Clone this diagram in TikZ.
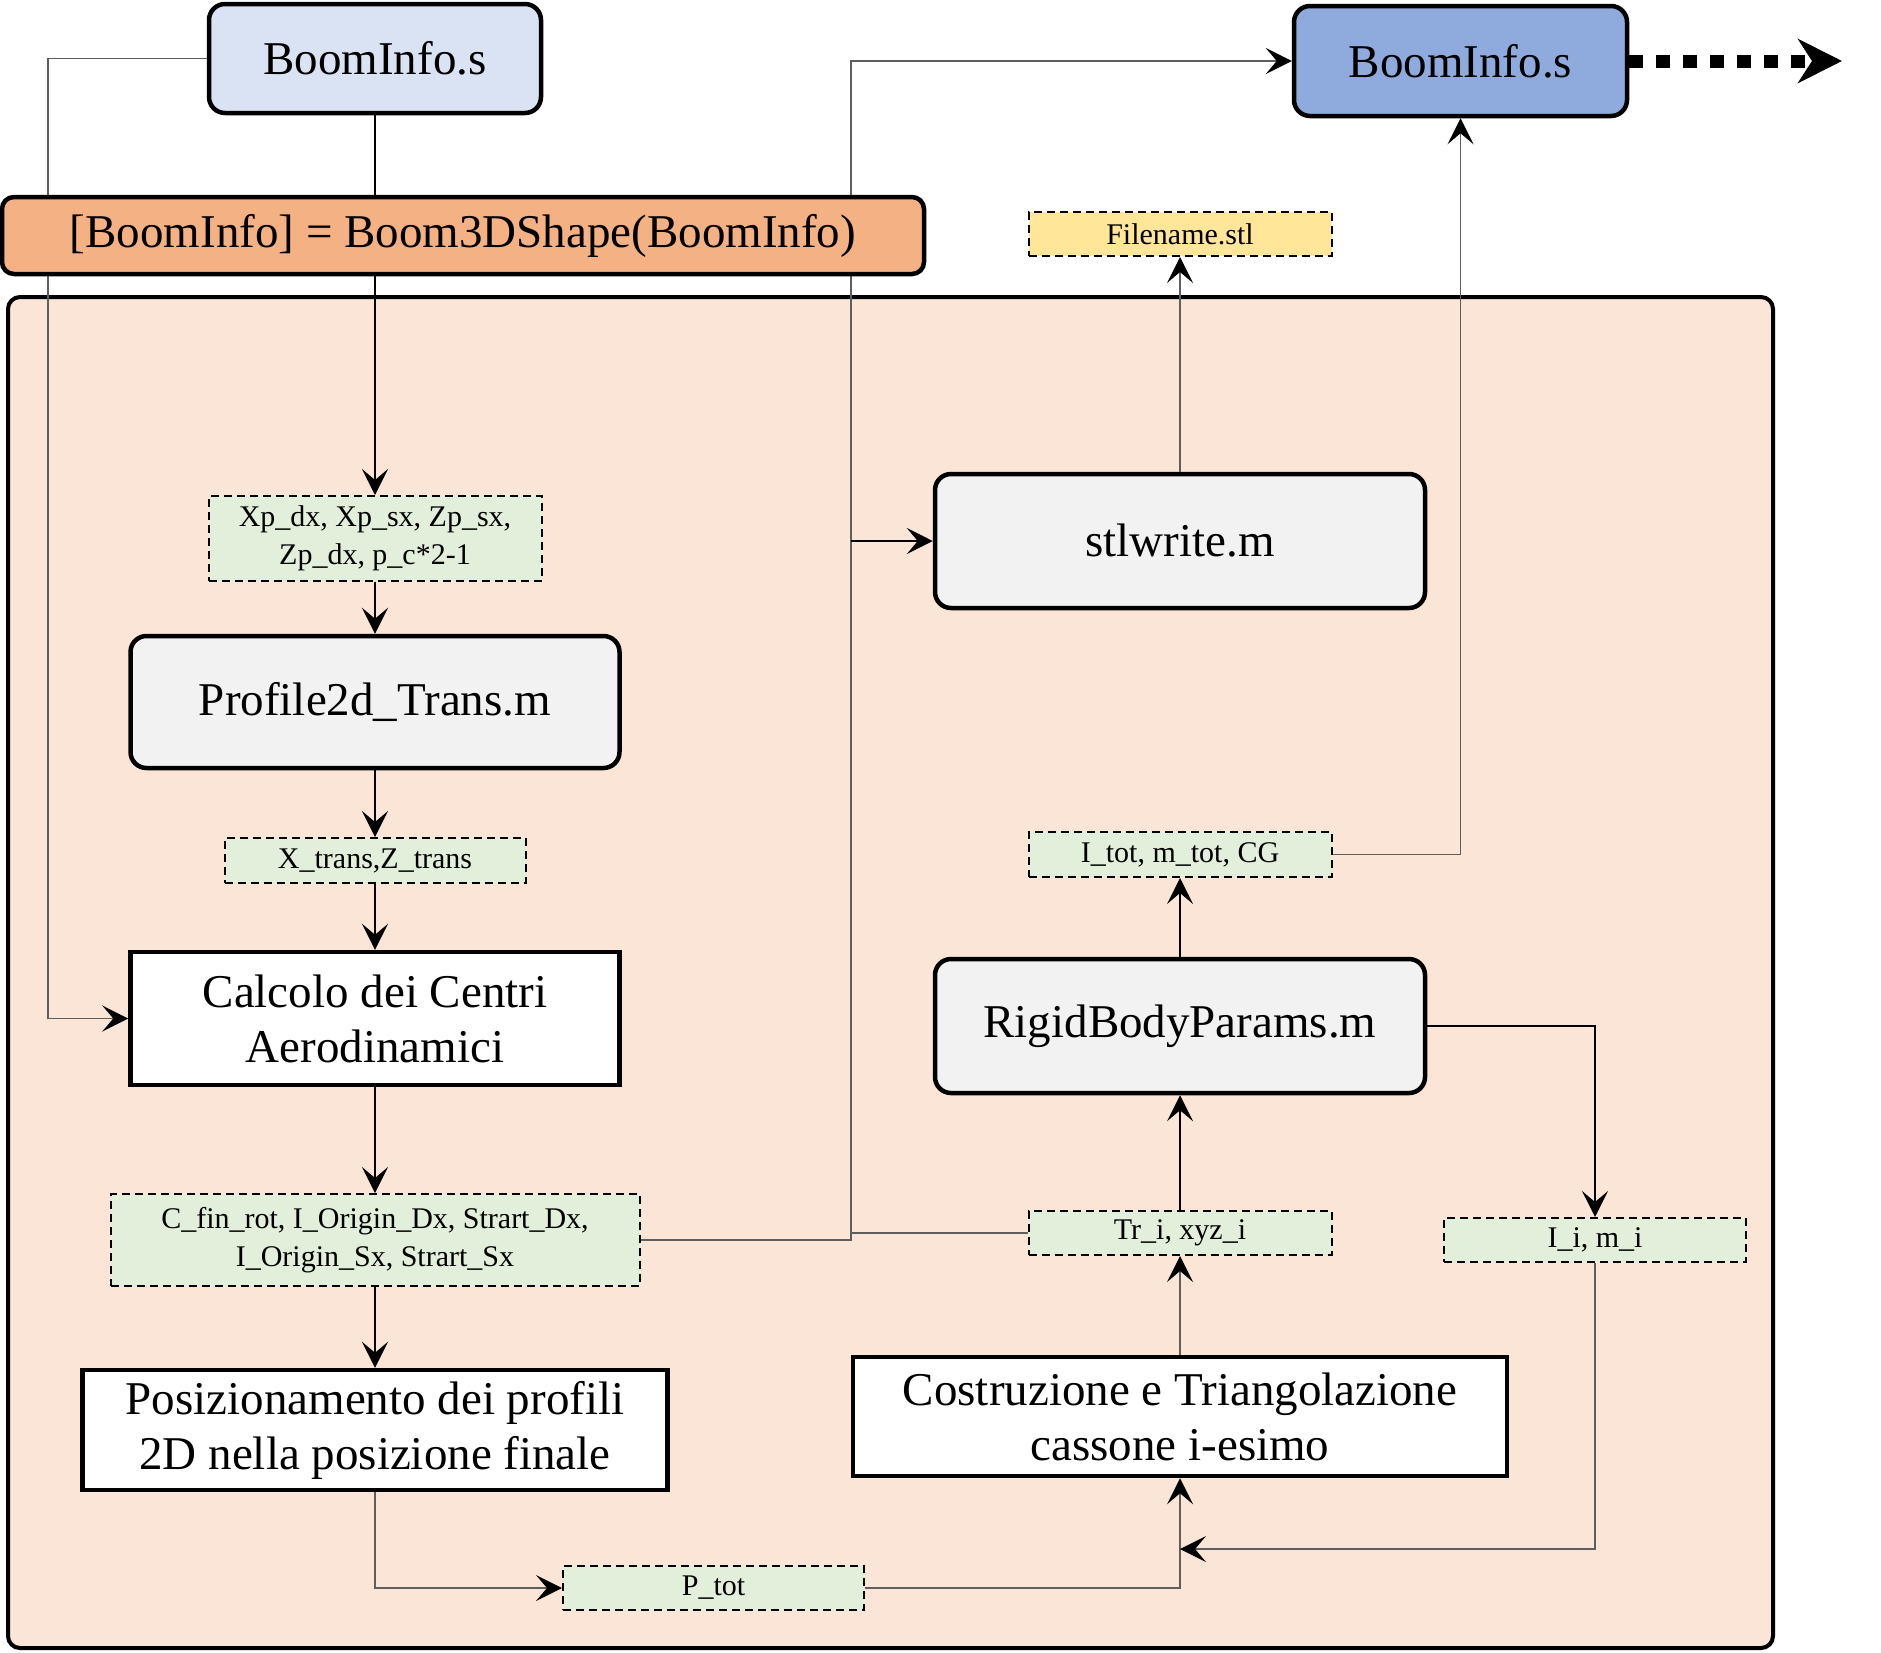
\documentclass[tikz,border=0pt]{standalone}
\usepackage{fontspec}
\setmainfont{Liberation Serif}
\usetikzlibrary{arrows.meta,calc}
\definecolor{cB1}{HTML}{DAE3F3}
\definecolor{cB2}{HTML}{8FAADC}
\definecolor{cOr}{HTML}{F4B183}
\definecolor{cCont}{HTML}{FBE5D6}
\definecolor{cYel}{HTML}{FFE699}
\definecolor{cGrn}{HTML}{E2EFDA}
\definecolor{cGry}{HTML}{F2F2F2}
\definecolor{cLine}{HTML}{5E5E5E}
\tikzset{
  bigfont/.style={font=\fontsize{47}{55}\selectfont},
  smallfont/.style={font=\fontsize{30}{38}\selectfont},
  rbox/.style={draw=black,line width=4.5pt,rounded corners=16pt,inner sep=0pt,align=center,bigfont},
  sbox/.style={draw=black,line width=4.5pt,inner sep=0pt,align=center,bigfont},
  dbox/.style={draw=black,line width=2pt,dash pattern=on 8pt off 5pt,inner sep=0pt,align=center,smallfont,fill=cGrn},
  conn/.style={line width=1.4pt,draw=black,-{Stealth[length=26pt,width=26pt,inset=11pt,black]}},
  connG/.style={line width=1.4pt,draw=cLine,-{Stealth[length=26pt,width=26pt,inset=11pt,black]}},
  plainG/.style={line width=1.4pt,draw=cLine},
}
\begin{document}
\begin{tikzpicture}[x=1pt,y=-1pt]
\useasboundingbox (0,0) rectangle (1881,1652);
\fill[white] (0,0) rectangle (1881,1652);
% container
\draw[fill=cCont,line width=4pt,rounded corners=12pt] (8,297) rectangle (1773,1648);

% coordinates
\coordinate (aL) at (48,58.5);
\coordinate (qTop) at (851,61);
\coordinate (qMid) at (851,541);
\coordinate (rJ) at (851,1233);
\coordinate (jEnd) at (1180,1549);
\coordinate (dEnd) at (1842,61);

% nodes (positions)
\node[rbox,fill=cB1,minimum width=332pt,minimum height=109pt] (b1) at (375,58.5) {BoomInfo.s};
\node[rbox,fill=cB2,minimum width=333pt,minimum height=110pt] (b2) at (1460.5,61) {BoomInfo.s};
\node[dbox,fill=cYel,minimum width=303pt,minimum height=44pt] (fname) at (1180,234) {Filename.stl};
\node[dbox,minimum width=333pt,minimum height=85pt] (xp) at (375,538.5) {Xp\_dx, Xp\_sx, Zp\_sx,\\Zp\_dx, p\_c*2-1};
\node[rbox,fill=cGry,minimum width=489pt,minimum height=132pt] (prof) at (375,702) {\raisebox{-3pt}{Profile2d\_Trans.m}};
\node[dbox,minimum width=301pt,minimum height=45pt] (xtr) at (375,860.5) {X\_trans,Z\_trans};
\node[sbox,fill=white,minimum width=489pt,minimum height=133pt] (calc) at (375,1018.5) {Calcolo dei Centri\\Aerodinamici};
\node[dbox,minimum width=529pt,minimum height=92pt] (cfin) at (375,1240) {C\_fin\_rot, I\_Origin\_Dx, Strart\_Dx,\\I\_Origin\_Sx, Strart\_Sx};
\node[sbox,fill=white,minimum width=585pt,minimum height=120pt] (pos) at (375,1430) {Posizionamento dei profili\\2D nella posizione finale};
\node[dbox,minimum width=301pt,minimum height=44pt] (ptot) at (713.5,1588) {P\_tot};
\node[rbox,fill=cGry,minimum width=490pt,minimum height=134pt] (stl) at (1180,541) {\raisebox{-3pt}{stlwrite.m}};
\node[dbox,minimum width=303pt,minimum height=45pt] (itot) at (1180,854.5) {I\_tot, m\_tot, CG};
\node[rbox,fill=cGry,minimum width=490pt,minimum height=134pt] (rbp) at (1180,1026) {\raisebox{-3pt}{RigidBodyParams.m}};
\node[dbox,minimum width=303pt,minimum height=44pt] (tri) at (1180,1233) {Tr\_i, xyz\_i};
\node[dbox,minimum width=302pt,minimum height=44pt] (ii) at (1595,1240) {I\_i, m\_i};
\node[sbox,fill=white,minimum width=654pt,minimum height=119pt] (cost) at (1180,1416.5) {Costruzione e Triangolazione\\cassone i-esimo};

% connectors
\draw[connG] (b1.west) -- (aL) |- (calc.west);
\draw[conn] (b1.south) -- (xp.north);
\draw[conn] (xp.south) -- (prof.north);
\draw[conn] (prof.south) -- (xtr.north);
\draw[conn] (xtr.south) -- (calc.north);
\draw[conn] (calc.south) -- (cfin.north);
\draw[conn] (cfin.south) -- (pos.north);
\draw[connG] (pos.south) |- (ptot.west);
\draw[connG] (ptot.east) -| (cost.south);
\draw[connG] (ii.south) |- (jEnd);
\draw[connG] (cost.north) -- (tri.south);
\draw[conn] (tri.north) -- (rbp.south);
\draw[conn] (rbp.north) -- (itot.south);
\draw[conn] (rbp.east) -| (ii.north);
\draw[connG] (itot.east) -| (b2.south);
\draw[connG] (stl.north) -- (fname.south);
\draw[connG] (cfin.east) -| (qTop) -- (b2.west);
\draw[conn] (qMid) -- (stl.west);
\draw[plainG] (tri.west) -- (rJ);
\draw[line width=13pt,dash pattern=on 14pt off 13pt,-{Stealth[length=44pt,width=44pt,inset=14pt]}] (b2.east) -- (dEnd);

% orange box on top of lines
\node[rbox,fill=cOr,rounded corners=12pt,minimum width=922pt,minimum height=77pt] (orange) at (463,235.5) {\raisebox{-5pt}{[BoomInfo] = Boom3DShape(BoomInfo)}};
\end{tikzpicture}
\end{document}
